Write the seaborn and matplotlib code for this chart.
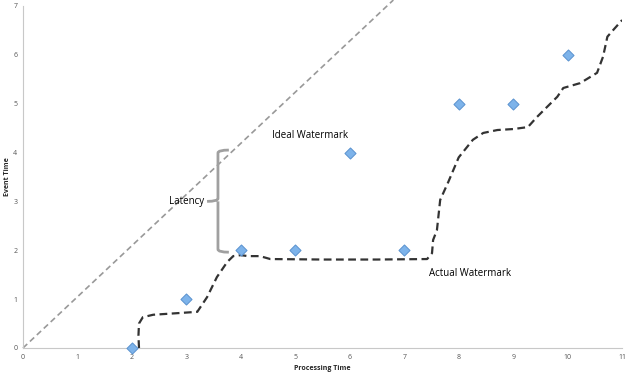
import matplotlib
matplotlib.use('Agg')
import matplotlib.pyplot as plt
import numpy as np
import pandas as pd
import seaborn as sns
from matplotlib.path import Path
from matplotlib.patches import PathPatch

sns.set_style('white')
plt.rcParams['font.family'] = ['Open Sans', 'DejaVu Sans']

# event points
proc_time = [2, 3, 4, 5, 6, 7, 8, 9, 10]
event_time = [0, 1, 2, 2, 4, 2, 5, 5, 6]

# actual watermark curve
wm_x = [2.13, 2.12, 2.13, 2.2, 2.39, 2.8, 3.2, 3.38, 3.56, 3.75, 3.86, 4.0, 4.13, 4.35,
        4.54, 5.5, 6.5, 7.42, 7.51, 7.53, 7.6, 7.66, 7.81, 8.0, 8.26, 8.45, 8.71, 9.0,
        9.27, 9.44, 9.62, 9.81, 9.92, 10.23, 10.54, 10.65, 10.73, 10.84, 11.0]
wm_y = [0.0, 0.25, 0.5, 0.63, 0.68, 0.71, 0.74, 1.04, 1.45, 1.76, 1.88, 1.9, 1.88, 1.88,
        1.82, 1.81, 1.81, 1.82, 1.94, 2.21, 2.41, 3.03, 3.40, 3.9, 4.26, 4.4, 4.46, 4.48,
        4.52, 4.73, 4.93, 5.14, 5.32, 5.42, 5.63, 5.96, 6.37, 6.51, 6.71]

ideal_x = [0, 6.8]
ideal_y = [0, 7.12]

x_ticks = list(range(0, 12))
y_ticks = list(range(0, 8))

fig = plt.figure(figsize=(6.28, 3.78), dpi=100)
ax = fig.add_axes([0.0366, 0.0794, 0.954, 0.905])

ax.plot(ideal_x, ideal_y, color='#999999', lw=1.2, ls=(0, (3.5, 2.2)), clip_on=False, zorder=2)

wm = pd.DataFrame({'x': wm_x, 'y': wm_y})
sns.lineplot(data=wm, x='x', y='y', ax=ax, estimator=None, sort=False,
             color='#333333', lw=1.6, ls=(0, (3.5, 2)), zorder=3)

pts = pd.DataFrame({'Processing Time': proc_time, 'Event Time': event_time})
sns.scatterplot(data=pts, x='Processing Time', y='Event Time', ax=ax, marker='D',
                s=32, color='#7db3ea', edgecolor='#5a92cf', linewidth=0.7, zorder=4,
                clip_on=False)

# latency brace
bx, top, bot, mid = 3.58, 4.05, 1.96, 3.0
verts = [(bx + 0.2, top), (bx, top), (bx, top - 0.06),
         (bx, mid + 0.06), (bx, mid), (bx - 0.2, mid),
         (bx, mid), (bx, mid - 0.06),
         (bx, bot + 0.06), (bx, bot), (bx + 0.2, bot)]
codes = [Path.MOVETO, Path.CURVE3, Path.CURVE3,
         Path.LINETO, Path.CURVE3, Path.CURVE3,
         Path.MOVETO, Path.LINETO,
         Path.LINETO, Path.CURVE3, Path.CURVE3]
ax.add_patch(PathPatch(Path(verts, codes), fill=False, edgecolor='#a0a0a0', lw=2.0, zorder=3))

ax.text(3.32, 3.0, 'Latency', fontsize=7, ha='right', va='center', color='black')
ax.text(5.27, 4.34, 'Ideal Watermark', fontsize=7, ha='center', va='center', color='black')
ax.text(8.21, 1.53, 'Actual Watermark', fontsize=7, ha='center', va='center', color='black')

ax.set_xlim(0, 11)
ax.set_ylim(0, 7)
ax.set_xticks(x_ticks)
ax.set_yticks(y_ticks)
ax.tick_params(axis='both', labelsize=5, colors='#555555', length=2, width=0.6, pad=4)
ax.tick_params(axis='x', direction='in')
ax.tick_params(axis='y', length=0)
ax.set_xlabel('Processing Time', fontsize=5, fontweight='bold', labelpad=3)
ax.set_ylabel('Event Time', fontsize=5, fontweight='bold', labelpad=2)
for s in ['top', 'right']:
    ax.spines[s].set_visible(False)
for s in ['left', 'bottom']:
    ax.spines[s].set_color('#c8c8c8')
    ax.spines[s].set_linewidth(0.8)

fig.savefig('out.png', dpi=100)
